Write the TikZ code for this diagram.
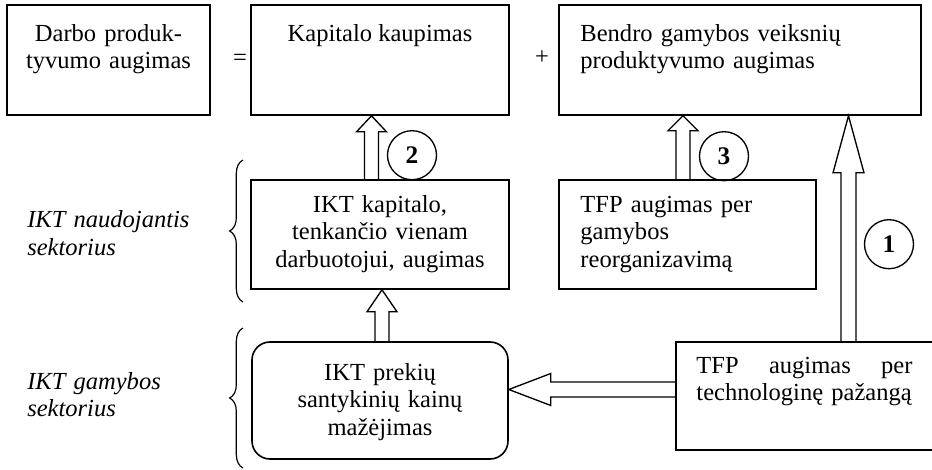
\documentclass[tikz,border=0pt]{standalone}
\usepackage{fontspec}
\setmainfont{Liberation Serif}
\usetikzlibrary{calc,decorations.pathreplacing}
\newcommand{\upblk}[5]{\draw[blk] ($(#1)+(-#3,0)$) -- ($(#2)+(-#3,#5)$) -- ($(#2)+(-#4,#5)$) -- (#2) -- ($(#2)+(#4,#5)$) -- ($(#2)+(#3,#5)$) -- ($(#1)+(#3,0)$);}
\newcommand{\leftblk}[5]{\draw[blk] ($(#1)+(0,-#3)$) -- ($(#2)+(#5,-#3)$) -- ($(#2)+(#5,-#4)$) -- (#2) -- ($(#2)+(#5,#4)$) -- ($(#2)+(#5,#3)$) -- ($(#1)+(0,#3)$);}
\begin{document}
\begin{tikzpicture}[x=0.75pt,y=-0.75pt,
  box/.style={draw, line width=1.2pt, inner sep=0pt},
  txt/.style={inner sep=0pt, font=\fontsize{18.4}{20.7}\selectfont},
  lbl/.style={inner sep=0pt, font=\fontsize{18.4}{20.7}\selectfont\itshape, align=left, text width=200*0.75pt},
  num/.style={draw, circle, line width=1pt, minimum size=49*0.75pt, inner sep=0pt, font=\fontsize{19}{20}\selectfont\bfseries},
  blk/.style={draw, line width=1pt, line join=miter},
  brc/.style={decorate, decoration={brace, amplitude=10pt}, line width=0.9pt}]
\useasboundingbox (0,0) rectangle (932,470);
% boxes
\node[box, minimum width=203*0.75pt, minimum height=110*0.75pt] (A) at (108.5,60) {};
\node[box, minimum width=258*0.75pt, minimum height=110*0.75pt] (B) at (380,60) {};
\node[box, minimum width=362*0.75pt, minimum height=110*0.75pt] (C) at (740,60) {};
\node[box, minimum width=258*0.75pt, minimum height=109*0.75pt] (D) at (380,234.5) {};
\node[box, minimum width=257*0.75pt, minimum height=109*0.75pt] (E) at (687.5,234.5) {};
\node[box, rounded corners=13.5pt, minimum width=256*0.75pt, minimum height=117*0.75pt] (F) at (380,400.5) {};
\node[box, minimum width=262*0.75pt, minimum height=108*0.75pt] (G) at (807,396) {};
% texts
\node[txt, text width=200*0.75pt, align=center, anchor=base] (At) at ($(A.north)+(0,37)$) {Darbo produk-\\tyvumo augimas};
\node[txt, anchor=base] (Bt) at ($(B.north)+(0,37)$) {Kapitalo kaupimas};
\node[txt, text width=330*0.75pt, align=left, anchor=base west] (Ct) at ($(C.north west)+(22,37)$) {Bendro gamybos veiksnių\\produktyvumo augimas};
\node[txt, text width=250*0.75pt, align=center, anchor=base] (Dt) at ($(D.north)+(0,33)$) {IKT kapitalo,\\tenkančio vienam\\darbuotojui, augimas};
\node[txt, text width=230*0.75pt, align=left, anchor=base west] (Et) at ($(E.north west)+(22,33)$) {TFP augimas per\\gamybos\\reorganizavimą};
\node[txt, text width=250*0.75pt, align=center, anchor=base] (Ft) at ($(F.north)+(0,39)$) {IKT prekių\\santykinių kainų\\mažėjimas};
\node[txt, text width=216*0.75pt, align=left, anchor=base west] (Gt) at ($(G.north west)+(21,32)$) {TFP\hfill augimas\hfill per\\technologinę pažangą};
\node[txt] (eq) at (240,60) {=};
\node[txt] (pl) at (542,58) {+};
% side labels
\node[lbl, anchor=base west] (L1) at (27,228) {IKT naudojantis\\sektorius};
\node[lbl, anchor=base west] (L2) at (27,389) {IKT gamybos\\sektorius};
\draw[brc] (243,302) -- (243,160);
\draw[brc] (243,468) -- (243,328);
% circles
\node[num] (c2) at ($(D.north)+(32,-24)$) {2};
\node[num] (c3) at ($(E.north)+(36.5,-23)$) {3};
\node[num] (c1) at ($(G.north)+(82,-97)$) {1};
% block arrows
\coordinate (a2s) at ($(D.north)+(-8.5,0)$);
\coordinate (a2e) at (a2s |- B.south);
\coordinate (a3s) at ($(E.north)+(-4.5,0)$);
\coordinate (a3e) at (a3s |- C.south);
\coordinate (a1s) at ($(G.north)+(41.5,0)$);
\coordinate (a1e) at (a1s |- C.south);
\coordinate (a4s) at ($(F.north)+(2,0)$);
\coordinate (a4e) at (a4s |- D.south);
\coordinate (a5s) at ($(G.west)+(0,-6.5)$);
\coordinate (a5e) at (a5s -| F.east);
\upblk{a2s}{a2e}{7}{15}{16}
\upblk{a3s}{a3e}{7}{15}{15}
\upblk{a1s}{a1e}{7.5}{15.5}{57}
\upblk{a4s}{a4e}{7}{15}{22}
\leftblk{a5s}{a5e}{7.5}{16}{42}
\end{tikzpicture}
\end{document}
